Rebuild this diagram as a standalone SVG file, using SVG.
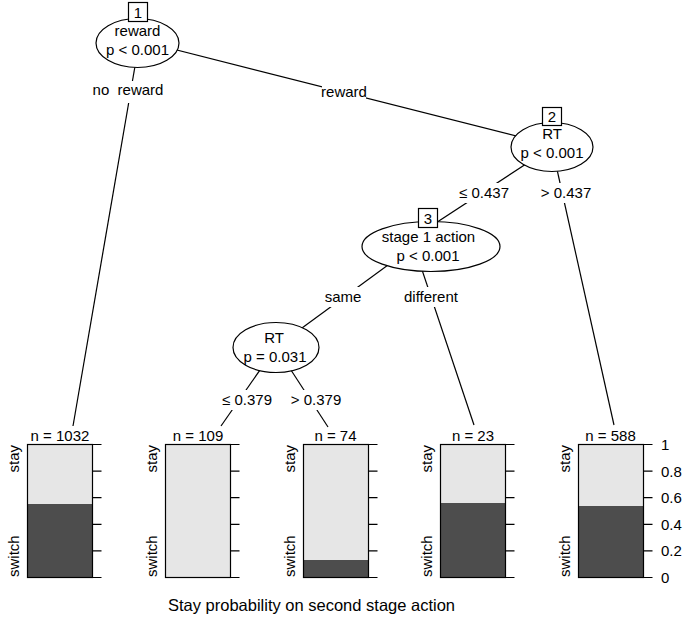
<svg xmlns="http://www.w3.org/2000/svg" width="686" height="626" viewBox="0 0 686 626">
<style>
text{font-family:"Liberation Sans",Arial,sans-serif;font-size:15px;fill:#000}
.c{text-anchor:middle}
.e{stroke:#000;stroke-width:1.2;fill:none}
.n{fill:#fff;stroke:#000;stroke-width:1.2}
.lb{fill:#fff}
.lt{fill:#e6e6e6;stroke:none}
.dk{fill:#4d4d4d;stroke:none}
.fr{fill:none;stroke:#000;stroke-width:1.2}
.tk{stroke:#000;stroke-width:1.2}
</style>
<rect width="686" height="626" fill="#fff"/>
<g id="connectors">
<line class="e" x1="139" y1="43" x2="73" y2="426"/>
<line class="e" x1="137.5" y1="40" x2="552" y2="145"/>
<line class="e" x1="552" y1="147" x2="422" y2="232"/>
<line class="e" x1="552" y1="147" x2="614" y2="425"/>
<line class="e" x1="414" y1="246" x2="276" y2="347"/>
<line class="e" x1="414" y1="246" x2="474" y2="425"/>
<line class="e" x1="276" y1="347" x2="221" y2="426"/>
<line class="e" x1="276" y1="347" x2="328" y2="427"/>
<rect class="lb" x="94" y="81" width="68" height="22"/>
<text class="c" x="128" y="95" xml:space="preserve">no  reward</text>
<rect class="lb" x="322" y="82" width="44" height="20"/>
<text class="c" x="344" y="97">reward</text>
<rect class="lb" x="461" y="183" width="47" height="20"/>
<text class="c" x="484" y="198">≤ 0.437</text>
<rect class="lb" x="542" y="183" width="48" height="20"/>
<text class="c" x="566" y="198">&gt; 0.437</text>
<rect class="lb" x="324" y="287" width="39" height="20"/>
<text class="c" x="343" y="302">same</text>
<rect class="lb" x="403" y="287" width="57" height="20"/>
<text class="c" x="431" y="302">different</text>
<rect class="lb" x="223" y="390" width="48" height="20"/>
<text class="c" x="247" y="405">≤ 0.379</text>
<rect class="lb" x="292" y="390" width="48" height="20"/>
<text class="c" x="316" y="405">&gt; 0.379</text>
</g>
<g id="node1">
<ellipse class="n" cx="137.5" cy="43" rx="41.5" ry="24.5"/>
<rect class="n" x="128.5" y="2.5" width="19" height="19"/>
<text class="c" x="138" y="17.5">1</text>
<text class="c" x="137.5" y="36">reward</text>
<text class="c" x="137.5" y="55">p &lt; 0.001</text>
</g>
<g id="node2">
<ellipse class="n" cx="552" cy="147" rx="41" ry="24.5"/>
<rect class="n" x="542.5" y="107.5" width="19" height="18"/>
<text class="c" x="552" y="122">2</text>
<text class="c" x="552" y="138.5">RT</text>
<text class="c" x="552" y="157.5">p &lt; 0.001</text>
</g>
<g id="node3">
<ellipse class="n" cx="431" cy="246.5" rx="69" ry="25"/>
<rect class="n" x="418.5" y="208.5" width="19" height="19"/>
<text class="c" x="428" y="223.5">3</text>
<text class="c" x="428.5" y="242">stage 1 action</text>
<text class="c" x="428" y="261">p &lt; 0.001</text>
</g>
<g id="node4">
<ellipse class="n" cx="276" cy="347.5" rx="43" ry="25"/>
<text class="c" x="274" y="343">RT</text>
<text class="c" x="275" y="362">p = 0.031</text>
</g>
<g id="leaf1">
<text class="c" x="60" y="441">n = 1032</text>
<rect class="lt" x="27.5" y="444.5" width="65" height="133"/>
<rect class="dk" x="27.5" y="504" width="65" height="73.5"/>
<rect class="fr" x="27.5" y="444.5" width="65" height="133"/>
<path class="tk" d="M92.5 444.5h9M92.5 471.1h9M92.5 497.7h9M92.5 524.3h9M92.5 550.9h9M92.5 577.5h9"/>
<text transform="translate(18.5,445) rotate(-90)" text-anchor="end">stay</text>
<text transform="translate(18.5,577) rotate(-90)">switch</text>
</g>
<g id="leaf2">
<text class="c" x="198" y="441">n = 109</text>
<rect class="lt" x="165.5" y="444.5" width="65" height="133"/>
<rect class="fr" x="165.5" y="444.5" width="65" height="133"/>
<path class="tk" d="M230.5 444.5h9M230.5 471.1h9M230.5 497.7h9M230.5 524.3h9M230.5 550.9h9M230.5 577.5h9"/>
<text transform="translate(156.5,445) rotate(-90)" text-anchor="end">stay</text>
<text transform="translate(156.5,577) rotate(-90)">switch</text>
</g>
<g id="leaf3">
<text class="c" x="335.5" y="441">n = 74</text>
<rect class="lt" x="303.5" y="444.5" width="65" height="133"/>
<rect class="dk" x="303.5" y="560" width="65" height="17.5"/>
<rect class="fr" x="303.5" y="444.5" width="65" height="133"/>
<path class="tk" d="M368.5 444.5h9M368.5 471.1h9M368.5 497.7h9M368.5 524.3h9M368.5 550.9h9M368.5 577.5h9"/>
<text transform="translate(294.5,445) rotate(-90)" text-anchor="end">stay</text>
<text transform="translate(294.5,577) rotate(-90)">switch</text>
</g>
<g id="leaf4">
<text class="c" x="473" y="441">n = 23</text>
<rect class="lt" x="440.5" y="444.5" width="65" height="133"/>
<rect class="dk" x="440.5" y="503" width="65" height="74.5"/>
<rect class="fr" x="440.5" y="444.5" width="65" height="133"/>
<path class="tk" d="M505.5 444.5h9M505.5 471.1h9M505.5 497.7h9M505.5 524.3h9M505.5 550.9h9M505.5 577.5h9"/>
<text transform="translate(431.5,445) rotate(-90)" text-anchor="end">stay</text>
<text transform="translate(431.5,577) rotate(-90)">switch</text>
</g>
<g id="leaf5">
<text class="c" x="610.5" y="441">n = 588</text>
<rect class="lt" x="578.5" y="444.5" width="65" height="133"/>
<rect class="dk" x="578.5" y="506" width="65" height="71.5"/>
<rect class="fr" x="578.5" y="444.5" width="65" height="133"/>
<path class="tk" d="M643.5 444.5h9M643.5 471.1h9M643.5 497.7h9M643.5 524.3h9M643.5 550.9h9M643.5 577.5h9"/>
<text transform="translate(569.5,445) rotate(-90)" text-anchor="end">stay</text>
<text transform="translate(569.5,577) rotate(-90)">switch</text>
<text x="661" y="450">1</text>
<text x="661" y="476.5">0.8</text>
<text x="661" y="503">0.6</text>
<text x="661" y="529.5">0.4</text>
<text x="661" y="556">0.2</text>
<text x="661" y="582.5">0</text>
</g>
<text class="c" x="311.5" y="611" style="font-size:16.5px">Stay probability on second stage action</text>
</svg>
